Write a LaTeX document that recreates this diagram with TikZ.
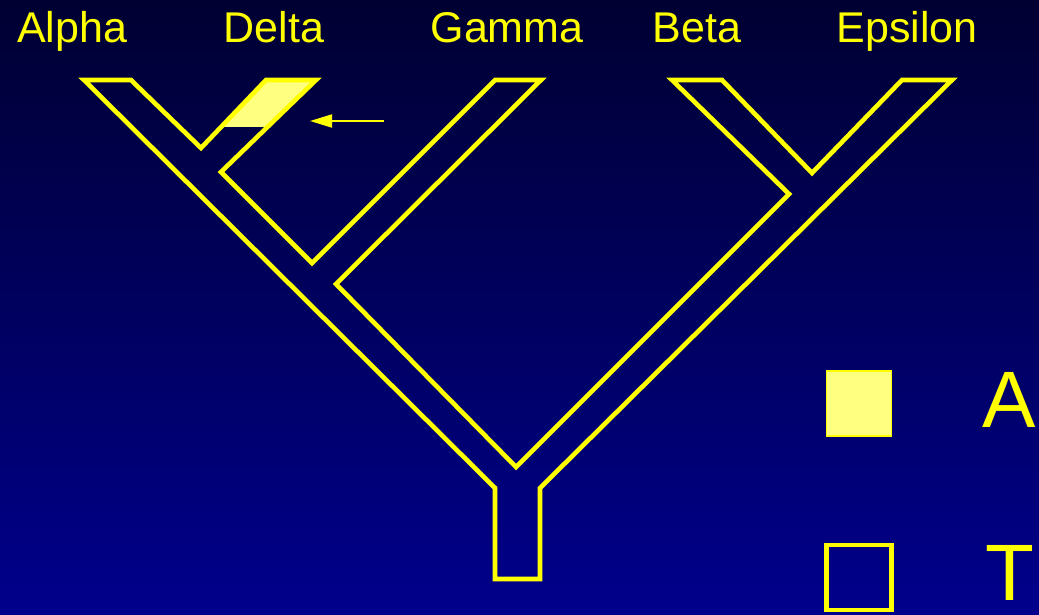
\documentclass[tikz,border=0pt]{standalone}
\usepackage{fontspec}
\setmainfont{Liberation Sans}
\usetikzlibrary{arrows.meta}
\definecolor{NightTop}{RGB}{0,0,50}
\definecolor{NightBot}{RGB}{0,0,140}
\definecolor{TreeYel}{RGB}{255,255,0}
\definecolor{PaleYel}{RGB}{255,255,128}
\tikzset{
  taxon/.style={text=TreeYel, anchor=base, inner sep=0pt, font=\fontsize{21.5}{24}\selectfont},
  keyletter/.style={text=TreeYel, anchor=base, inner sep=0pt, font=\fontsize{40}{44}\selectfont},
  branch/.style={draw=TreeYel, line width=2.3pt, line join=miter},
  keybox/.style={rectangle, draw=TreeYel, minimum width=32.5pt, minimum height=32.5pt, inner sep=0pt},
  pointer/.style={-{Triangle[length=11pt,width=6.5pt]}, draw=TreeYel, line width=1pt}
}

\begin{document}
\begin{tikzpicture}[x=0.5pt, y=-0.5pt]
  \useasboundingbox (0,0) rectangle (1039,615);
  \shade[top color=NightTop, bottom color=NightBot] (0,0) rectangle (1039,615);

  % taxa along the top
  \node[taxon] (alpha) at (72,43) {Alpha};
  \node[taxon] (delta) at (274,43) {Delta};
  \node[taxon] (gamma) at (507,43) {Gamma};
  \node[taxon] (beta) at (697,43) {Beta};
  \node[taxon] (epsilon) at (907,43) {Epsilon};

  % state change on the Delta branch
  \fill[PaleYel] (221,127) -- (267,127) -- (316,80) -- (266,80) -- cycle;

  % the tree as one outline
  \draw[branch] (84,80) -- (131,80) -- (201,148) -- (266,80) -- (316,80)
    -- (221,172) -- (312,263) -- (495,80) -- (541,80) -- (336,284)
    -- (516,467) -- (789,194) -- (672,80) -- (722,80) -- (812,173)
    -- (902,80) -- (952,80) -- (540,488) -- (540,579) -- (495,579)
    -- (495,488) -- cycle;

  \coordinate (tail) at (384,121);
  \coordinate (tip) at (310,121);
  \draw[pointer] (tail) -- (tip);

  % key
  \node[keybox, fill=PaleYel, line width=0.6pt] (keyA) at (859,403.5) {};
  \node[keybox, line width=2.2pt] (keyT) at (859,577.5) {};
  \node[keyletter] (labA) at (1009,427) {A};
  \node[keyletter] (labT) at (1010,600) {T};
\end{tikzpicture}
\end{document}
